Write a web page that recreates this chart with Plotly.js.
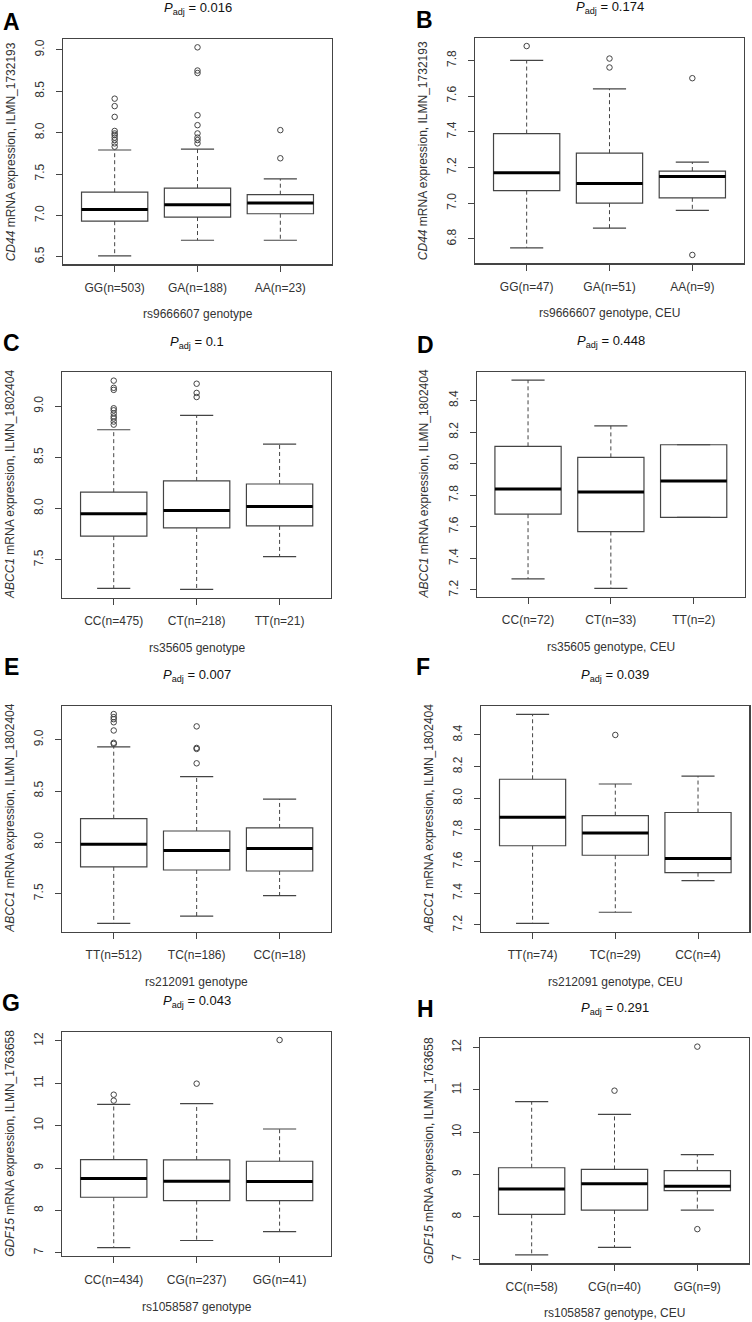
<!DOCTYPE html>
<html>
<head>
<meta charset="utf-8">
<script src="https://cdn.plot.ly/plotly-3.0.1.min.js"></script>
<style>
  html, body { margin: 0; padding: 0; background: #fff; }
  #plot { width: 752px; height: 1322px; }
</style>
</head>
<body>
<div id="plot"></div>
<script>
// Panel A - CD44, rs9666607
var aLabels = ["GG(n=503)", "GA(n=188)", "AA(n=23)"];
var aLow = [6.51, 6.70, 6.70];
var aQ1 = [6.93, 6.98, 7.02];
var aMed = [7.07, 7.13, 7.15];
var aQ3 = [7.28, 7.33, 7.25];
var aHigh = [7.79, 7.80, 7.44];
var aOut = [[8.41, 8.32, 8.19, 8.02, 7.99, 7.97, 7.94, 7.91, 7.87, 7.83],
            [9.03, 8.75, 8.72, 8.21, 8.09, 7.99, 7.94, 7.91, 7.87],
            [8.03, 7.69]];

// Panel B - CD44, rs9666607, CEU
var bLabels = ["GG(n=47)", "GA(n=51)", "AA(n=9)"];
var bLow = [6.75, 6.86, 6.96];
var bQ1 = [7.07, 7.00, 7.03];
var bMed = [7.17, 7.11, 7.15];
var bQ3 = [7.39, 7.28, 7.18];
var bHigh = [7.80, 7.64, 7.23];
var bOut = [[7.88], [7.81, 7.76], [7.70, 6.71]];

// Panel C - ABCC1, rs35605
var cLabels = ["CC(n=475)", "CT(n=218)", "TT(n=21)"];
var cLow = [7.22, 7.21, 7.53];
var cQ1 = [7.73, 7.81, 7.83];
var cMed = [7.95, 7.98, 8.02];
var cQ3 = [8.16, 8.27, 8.24];
var cHigh = [8.77, 8.91, 8.63];
var cOut = [[9.25, 9.18, 9.16, 8.98, 8.96, 8.93, 8.90, 8.88, 8.85, 8.82],
            [9.22, 9.13, 9.09],
            []];

// Panel D - ABCC1, rs35605, CEU
var dLabels = ["CC(n=72)", "CT(n=33)", "TT(n=2)"];
var dLow = [7.27, 7.21, 7.66];
var dQ1 = [7.68, 7.57, 7.66];
var dMed = [7.84, 7.82, 7.89];
var dQ3 = [8.11, 8.04, 8.12];
var dHigh = [8.53, 8.24, 8.12];
var dOut = [[], [], []];

// Panel E - ABCC1, rs212091
var eLabels = ["TT(n=512)", "TC(n=186)", "CC(n=18)"];
var eLow = [7.21, 7.28, 7.48];
var eQ1 = [7.76, 7.73, 7.72];
var eMed = [7.98, 7.92, 7.94];
var eQ3 = [8.23, 8.11, 8.14];
var eHigh = [8.93, 8.64, 8.42];
var eOut = [[9.25, 9.22, 9.20, 9.17, 9.09, 8.97, 8.96],
            [9.13, 8.92, 8.91, 8.77],
            []];

// Panel F - ABCC1, rs212091, CEU
var fLabels = ["TT(n=74)", "TC(n=29)", "CC(n=4)"];
var fLow = [7.21, 7.28, 7.48];
var fQ1 = [7.70, 7.64, 7.53];
var fMed = [7.88, 7.78, 7.62];
var fQ3 = [8.12, 7.89, 7.91];
var fHigh = [8.53, 8.09, 8.14];
var fOut = [[], [8.40], []];

// Panel G - GDF15, rs1058587
var gLabels = ["CC(n=434)", "CG(n=237)", "GG(n=41)"];
var gLow = [7.12, 7.29, 7.50];
var gQ1 = [8.31, 8.23, 8.23];
var gMed = [8.75, 8.69, 8.68];
var gQ3 = [9.20, 9.19, 9.16];
var gHigh = [10.50, 10.52, 9.92];
var gOut = [[10.73, 10.59], [10.99], [12.02]];

// Panel H - GDF15, rs1058587, CEU
var hLabels = ["CC(n=58)", "CG(n=40)", "GG(n=9)"];
var hLow = [7.10, 7.28, 8.16];
var hQ1 = [8.06, 8.16, 8.62];
var hMed = [8.66, 8.78, 8.72];
var hQ3 = [9.16, 9.12, 9.09];
var hHigh = [10.72, 10.42, 9.47];
var hOut = [[], [10.98], [12.02, 7.71]];

var pAdj = ["0.016", "0.174", "0.1", "0.448", "0.007", "0.039", "0.043", "0.291"];
var letters = ["A", "B", "C", "D", "E", "F", "G", "H"];
var xTitles = ["rs9666607 genotype", "rs9666607 genotype, CEU",
               "rs35605 genotype", "rs35605 genotype, CEU",
               "rs212091 genotype", "rs212091 genotype, CEU",
               "rs1058587 genotype", "rs1058587 genotype, CEU"];
var yTitles = ["<i>CD44</i> mRNA expression, ILMN_1732193", "<i>CD44</i> mRNA expression, ILMN_1732193",
               "<i>ABCC1</i> mRNA expression, ILMN_1802404", "<i>ABCC1</i> mRNA expression, ILMN_1802404",
               "<i>ABCC1</i> mRNA expression, ILMN_1802404", "<i>ABCC1</i> mRNA expression, ILMN_1802404",
               "<i>GDF15</i> mRNA expression, ILMN_1763658", "<i>GDF15</i> mRNA expression, ILMN_1763658"];

var panels = [
  {labels: aLabels, low: aLow, q1: aQ1, med: aMed, q3: aQ3, high: aHigh, out: aOut, dtick: 0.5, fmt: ".1f"},
  {labels: bLabels, low: bLow, q1: bQ1, med: bMed, q3: bQ3, high: bHigh, out: bOut, dtick: 0.2, fmt: ".1f"},
  {labels: cLabels, low: cLow, q1: cQ1, med: cMed, q3: cQ3, high: cHigh, out: cOut, dtick: 0.5, fmt: ".1f"},
  {labels: dLabels, low: dLow, q1: dQ1, med: dMed, q3: dQ3, high: dHigh, out: dOut, dtick: 0.2, fmt: ".1f"},
  {labels: eLabels, low: eLow, q1: eQ1, med: eMed, q3: eQ3, high: eHigh, out: eOut, dtick: 0.5, fmt: ".1f"},
  {labels: fLabels, low: fLow, q1: fQ1, med: fMed, q3: fQ3, high: fHigh, out: fOut, dtick: 0.2, fmt: ".1f"},
  {labels: gLabels, low: gLow, q1: gQ1, med: gMed, q3: gQ3, high: gHigh, out: gOut, dtick: 1, fmt: "d"},
  {labels: hLabels, low: hLow, q1: hQ1, med: hMed, q3: hQ3, high: hHigh, out: hOut, dtick: 1, fmt: "d"}
];

// page layout in pixels: plot frame [left, top, right, bottom]
var W = 752, H = 1322;
var frames = [
  [63.3, 39, 331.7, 264.3], [475.3, 37.7, 743.7, 263.3],
  [62.3, 372.3, 331, 597.7], [476.7, 371.7, 745, 596.7],
  [62.3, 705.7, 331, 931.7], [481.3, 706, 749.3, 931.7],
  [62.3, 1031.7, 331, 1256], [480.3, 1038.3, 748.7, 1263.3]
];
var letterPos = [[11, 22], [424, 20], [12, 343], [425, 345], [11, 667], [423, 667], [11, 1003], [425, 1009]];
var titleY = [9, 7, 342.7, 341.7, 675, 675, 1001.7, 1008];
var xTitleY = [314, 313, 647.7, 646.7, 981.7, 981.7, 1307.3, 1312.7];
var yTitleX = [10.7, 422.7, 10, 424.3, 10, 429.3, 10, 429.3];

var FONT = "Liberation Sans, Arial, sans-serif";
var INK = "#444";
var boxW = 0.8;

var data = [];
var layout = {
  width: W, height: H,
  margin: {l: 0, r: 0, t: 0, b: 0},
  paper_bgcolor: "white", plot_bgcolor: "white",
  showlegend: false,
  font: {family: FONT, size: 12, color: "#333"},
  annotations: []
};

function px(x) { return x / W; }
function py(y) { return 1 - y / H; }

panels.forEach(function (p, k) {
  var n = k + 1;
  var xa = "x" + n;
  var ya = "y" + n;
  var pos = p.labels.map(function (_, i) { return i + 1; });

  // box (hinges only; whiskers drawn dashed below)
  data.push({
    type: "box", xaxis: xa, yaxis: ya,
    x: pos, q1: p.q1, median: p.med, q3: p.q3,
    lowerfence: p.q1, upperfence: p.q3,
    width: boxW, whiskerwidth: 0,
    fillcolor: "white", line: {color: INK, width: 1.2},
    boxpoints: false, hoverinfo: "skip"
  });

  // dashed whiskers, staples and thick median
  var wx = [], wy = [], cx = [], cy = [], mx = [], my = [];
  pos.forEach(function (x, i) {
    wx.push(x, x, null, x, x, null);
    wy.push(p.q3[i], p.high[i], null, p.q1[i], p.low[i], null);
    cx.push(x - boxW / 4, x + boxW / 4, null, x - boxW / 4, x + boxW / 4, null);
    cy.push(p.high[i], p.high[i], null, p.low[i], p.low[i], null);
    mx.push(x - boxW / 2, x + boxW / 2, null);
    my.push(p.med[i], p.med[i], null);
  });
  data.push({type: "scatter", mode: "lines", xaxis: xa, yaxis: ya, x: wx, y: wy,
    line: {color: INK, width: 1, dash: "4px,3px"}, hoverinfo: "skip"});
  data.push({type: "scatter", mode: "lines", xaxis: xa, yaxis: ya, x: cx, y: cy,
    line: {color: INK, width: 1.2}, hoverinfo: "skip"});
  data.push({type: "scatter", mode: "lines", xaxis: xa, yaxis: ya, x: mx, y: my,
    line: {color: "#000", width: 3}, hoverinfo: "skip"});

  // outliers
  var ox = [], oy = [];
  p.out.forEach(function (vals, i) {
    vals.forEach(function (v) { ox.push(pos[i]); oy.push(v); });
  });
  data.push({type: "scatter", mode: "markers", xaxis: xa, yaxis: ya, x: ox, y: oy,
    marker: {symbol: "circle-open", size: 5.5, color: INK, line: {width: 1, color: INK}},
    hoverinfo: "skip"});

  // R-style range: data extent plus 4%
  var all = p.low.concat(p.high);
  p.out.forEach(function (vals) { all = all.concat(vals); });
  var lo = Math.min.apply(null, all), hi = Math.max.apply(null, all);
  var pad = (hi - lo) * 0.04;

  var f = frames[k];
  layout["xaxis" + n] = {
    domain: [px(f[0]), px(f[2])], anchor: ya,
    range: [0.5 - 0.12, 3.5 + 0.12],
    tickvals: pos, ticktext: p.labels,
    ticks: "outside", ticklen: 6, tickcolor: INK, tickwidth: 1,
    ticklabelstandoff: 6,
    showline: true, mirror: true, linecolor: INK, linewidth: 1.2,
    showgrid: false, zeroline: false, fixedrange: true,
    tickfont: {family: FONT, size: 12, color: "#333"}
  };
  layout["yaxis" + n] = {
    domain: [py(f[3]), py(f[1])], anchor: xa,
    range: [lo - pad, hi + pad],
    dtick: p.dtick, tick0: 0, tickformat: p.fmt, tickangle: -90,
    ticks: "outside", ticklen: 6, tickcolor: INK, tickwidth: 1,
    ticklabelstandoff: 7,
    showline: true, mirror: true, linecolor: INK, linewidth: 1.2,
    showgrid: false, zeroline: false, fixedrange: true,
    tickfont: {family: FONT, size: 12, color: "#333"}
  };

  var cxp = (f[0] + f[2]) / 2, cyp = (f[1] + f[3]) / 2;
  layout.annotations.push(
    {xref: "paper", yref: "paper", x: px(letterPos[k][0]), y: py(letterPos[k][1]),
     text: "<b>" + letters[k] + "</b>", showarrow: false, xanchor: "center", yanchor: "middle",
     font: {family: FONT, size: 23, color: "#000"}},
    {xref: "paper", yref: "paper", x: px(cxp), y: py(titleY[k]),
     text: "<i>P</i><sub>adj</sub> = " + pAdj[k], showarrow: false, xanchor: "center", yanchor: "middle",
     font: {family: FONT, size: 13, color: "#111"}},
    {xref: "paper", yref: "paper", x: px(cxp), y: py(xTitleY[k]),
     text: xTitles[k], showarrow: false, xanchor: "center", yanchor: "middle",
     font: {family: FONT, size: 12, color: "#333"}},
    {xref: "paper", yref: "paper", x: px(yTitleX[k]), y: py(cyp),
     text: yTitles[k], showarrow: false, textangle: -90, xanchor: "center", yanchor: "middle",
     font: {family: FONT, size: 12, color: "#333"}}
  );
});

Plotly.newPlot("plot", data, layout, {staticPlot: true});
</script>
</body>
</html>
